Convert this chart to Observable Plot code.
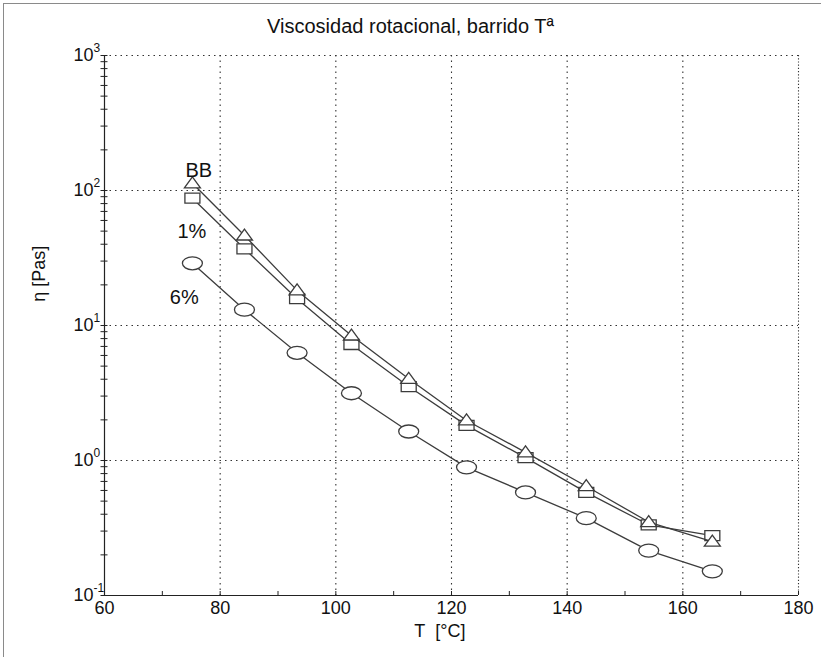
<!DOCTYPE html>
<html><head><meta charset="utf-8">
<script src="https://cdn.jsdelivr.net/npm/d3@7"></script>
<script src="https://cdn.jsdelivr.net/npm/@observablehq/plot@0.6"></script>
<style>
html,body{margin:0;padding:0;background:#fff;}
#page{position:relative;width:821px;height:657px;overflow:hidden;font-family:"Liberation Sans",Arial,sans-serif;}
#border{position:absolute;left:3px;top:3px;width:830px;height:670px;border-left:1.5px solid #8a8a8a;border-top:1.5px solid #8a8a8a;}
#title{position:absolute;left:0;top:14px;width:821px;text-align:center;font-size:20px;line-height:24px;color:#111;}
#chart{position:absolute;left:0;top:34px;}
</style></head><body>
<div id="page"><div id="border"></div><div id="title">Viscosidad rotacional, barrido Tª</div><div id="chart"></div></div>
<script>
// ---- data ----
const temps = [75.2, 84.2, 93.3, 102.7, 112.6, 122.6, 132.8, 143.3, 154.1, 165.1];
const etaBB = [113, 46.4, 18.2, 8.43, 4.03, 1.98, 1.15, 0.645, 0.35, 0.251];
const eta1 = [87.7, 37.0, 15.8, 7.23, 3.53, 1.82, 1.05, 0.58, 0.334, 0.278];
const eta6 = [28.9, 13.1, 6.28, 3.15, 1.64, 0.89, 0.58, 0.374, 0.215, 0.151];
const seriesNames = ["6%", "1%", "BB"];
const xTickLabels = [60, 80, 100, 120, 140, 160, 180];
const xMinorTicks = [60, 70, 80, 90, 100, 110, 120, 130, 140, 150, 160, 170, 180];
const yDecades = [0.1, 1, 10, 100, 1000];
const yExponents = ["-1", "0", "1", "2", "3"];
const yMinorTicks = [];
for (const d of [0.1, 1, 10, 100]) for (let m = 2; m <= 9; m++) yMinorTicks.push(+(d * m).toPrecision(3));
const labelTexts = ["BB", "1%", "6%"];
const labelX = [76.3, 75.1, 73.8];
const labelY = [140, 49.7, 16.1];
const xLabel = "T\u00a0 [°C]";
const yLabel = "η [Pas]";

// ---- tidy tables ----
const valuesBySeries = {"6%": eta6, "1%": eta1, "BB": etaBB};
const rows = seriesNames.flatMap(s => temps.map((t, i) => ({series: s, T: t, eta: valuesBySeries[s][i]})));
const labels = labelTexts.map((t, i) => ({t, x: labelX[i], y: labelY[i]}));

// ---- custom marker shapes ----
const K = 0.5523;
const ellipse = {draw(ctx) {
  const rx = 10, ry = 6.5;
  ctx.moveTo(rx, 0);
  ctx.bezierCurveTo(rx, ry * K, rx * K, ry, 0, ry);
  ctx.bezierCurveTo(-rx * K, ry, -rx, ry * K, -rx, 0);
  ctx.bezierCurveTo(-rx, -ry * K, -rx * K, -ry, 0, -ry);
  ctx.bezierCurveTo(rx * K, -ry, rx, -ry * K, rx, 0);
  ctx.closePath();
}};
const rectSym = {draw(ctx) { ctx.rect(-7.5, -5, 15, 10); }};
const triSym = {draw(ctx) { ctx.moveTo(0, -6.5); ctx.lineTo(8, 4.5); ctx.lineTo(-8, 4.5); ctx.closePath(); }};
const symbolOf = {"6%": ellipse, "1%": rectSym, "BB": triSym};

const ink = "#3c3c3c";
const gridStyle = {stroke: "#333", strokeOpacity: 1, strokeDasharray: "1.5,4", strokeWidth: 1.1};
const noText = () => "";

const seriesMarks = seriesNames.flatMap(s => [
  Plot.line(rows.filter(r => r.series === s), {x: "T", y: "eta", stroke: ink, strokeWidth: 1.3}),
  Plot.dot(rows.filter(r => r.series === s), {x: "T", y: "eta", symbol: () => symbolOf[s], r: 5, fill: "white", stroke: ink, strokeWidth: 1.3})
]);

const chart = Plot.plot({
  width: 821,
  height: 623,
  marginLeft: 104,
  marginRight: 23,
  marginTop: 21,
  marginBottom: 62,
  style: {fontFamily: "'Liberation Sans', Arial, sans-serif", color: "#111", background: "transparent"},
  x: {domain: [60, 180], label: null},
  y: {type: "log", domain: [0.1, 1000], label: null},
  symbol: {type: "identity"},
  marks: [
    Plot.gridX(xTickLabels.slice(1, -1), gridStyle),
    Plot.gridY(yDecades.slice(1, -1), gridStyle),
    Plot.gridX([180], {...gridStyle, strokeDasharray: "1.2,2"}),
    Plot.gridY([1000], gridStyle),
    Plot.ruleX([60], {stroke: "#222", strokeWidth: 1.2}),
    Plot.ruleY([0.1], {stroke: "#222", strokeWidth: 1.2}),
    // y ticks crossing the axis
    Plot.axisY(yMinorTicks.concat(yDecades), {tickSize: 7, insetLeft: 3.5, tickFormat: noText, stroke: "#222", label: null}),
    // x ticks pointing inward
    Plot.axisX(xMinorTicks, {tickSize: 4, insetBottom: 4, tickFormat: noText, stroke: "#222", label: null}),
    // x tick labels
    Plot.text(xTickLabels, {x: d => d, frameAnchor: "bottom", text: d => String(d), lineAnchor: "top", dy: 6, fontSize: 18, fill: "#111"}),
    // y tick labels: 10 with superscript exponent
    Plot.text(yDecades, {y: d => d, frameAnchor: "left", text: () => "10", textAnchor: "end", dx: -11, fontSize: 18, fill: "#111"}),
    Plot.text(yDecades, {y: d => d, frameAnchor: "left", text: (d, i) => yExponents[i], textAnchor: "start", dx: -11, dy: -7, fontSize: 12, fill: "#111"}),
    ...seriesMarks,
    Plot.text(labels, {x: "x", y: "y", text: "t", fontSize: 20, fill: "#111"}),
    Plot.text([xLabel], {frameAnchor: "bottom", x: () => 118, text: d => d, dy: 41, fontSize: 18, fill: "#111"}),
    Plot.text([yLabel], {frameAnchor: "left", y: () => 15, text: d => d, dx: -65, rotate: -90, fontSize: 18, fill: "#111"})
  ]
});
document.getElementById("chart").appendChild(chart);
</script>
</body></html>
